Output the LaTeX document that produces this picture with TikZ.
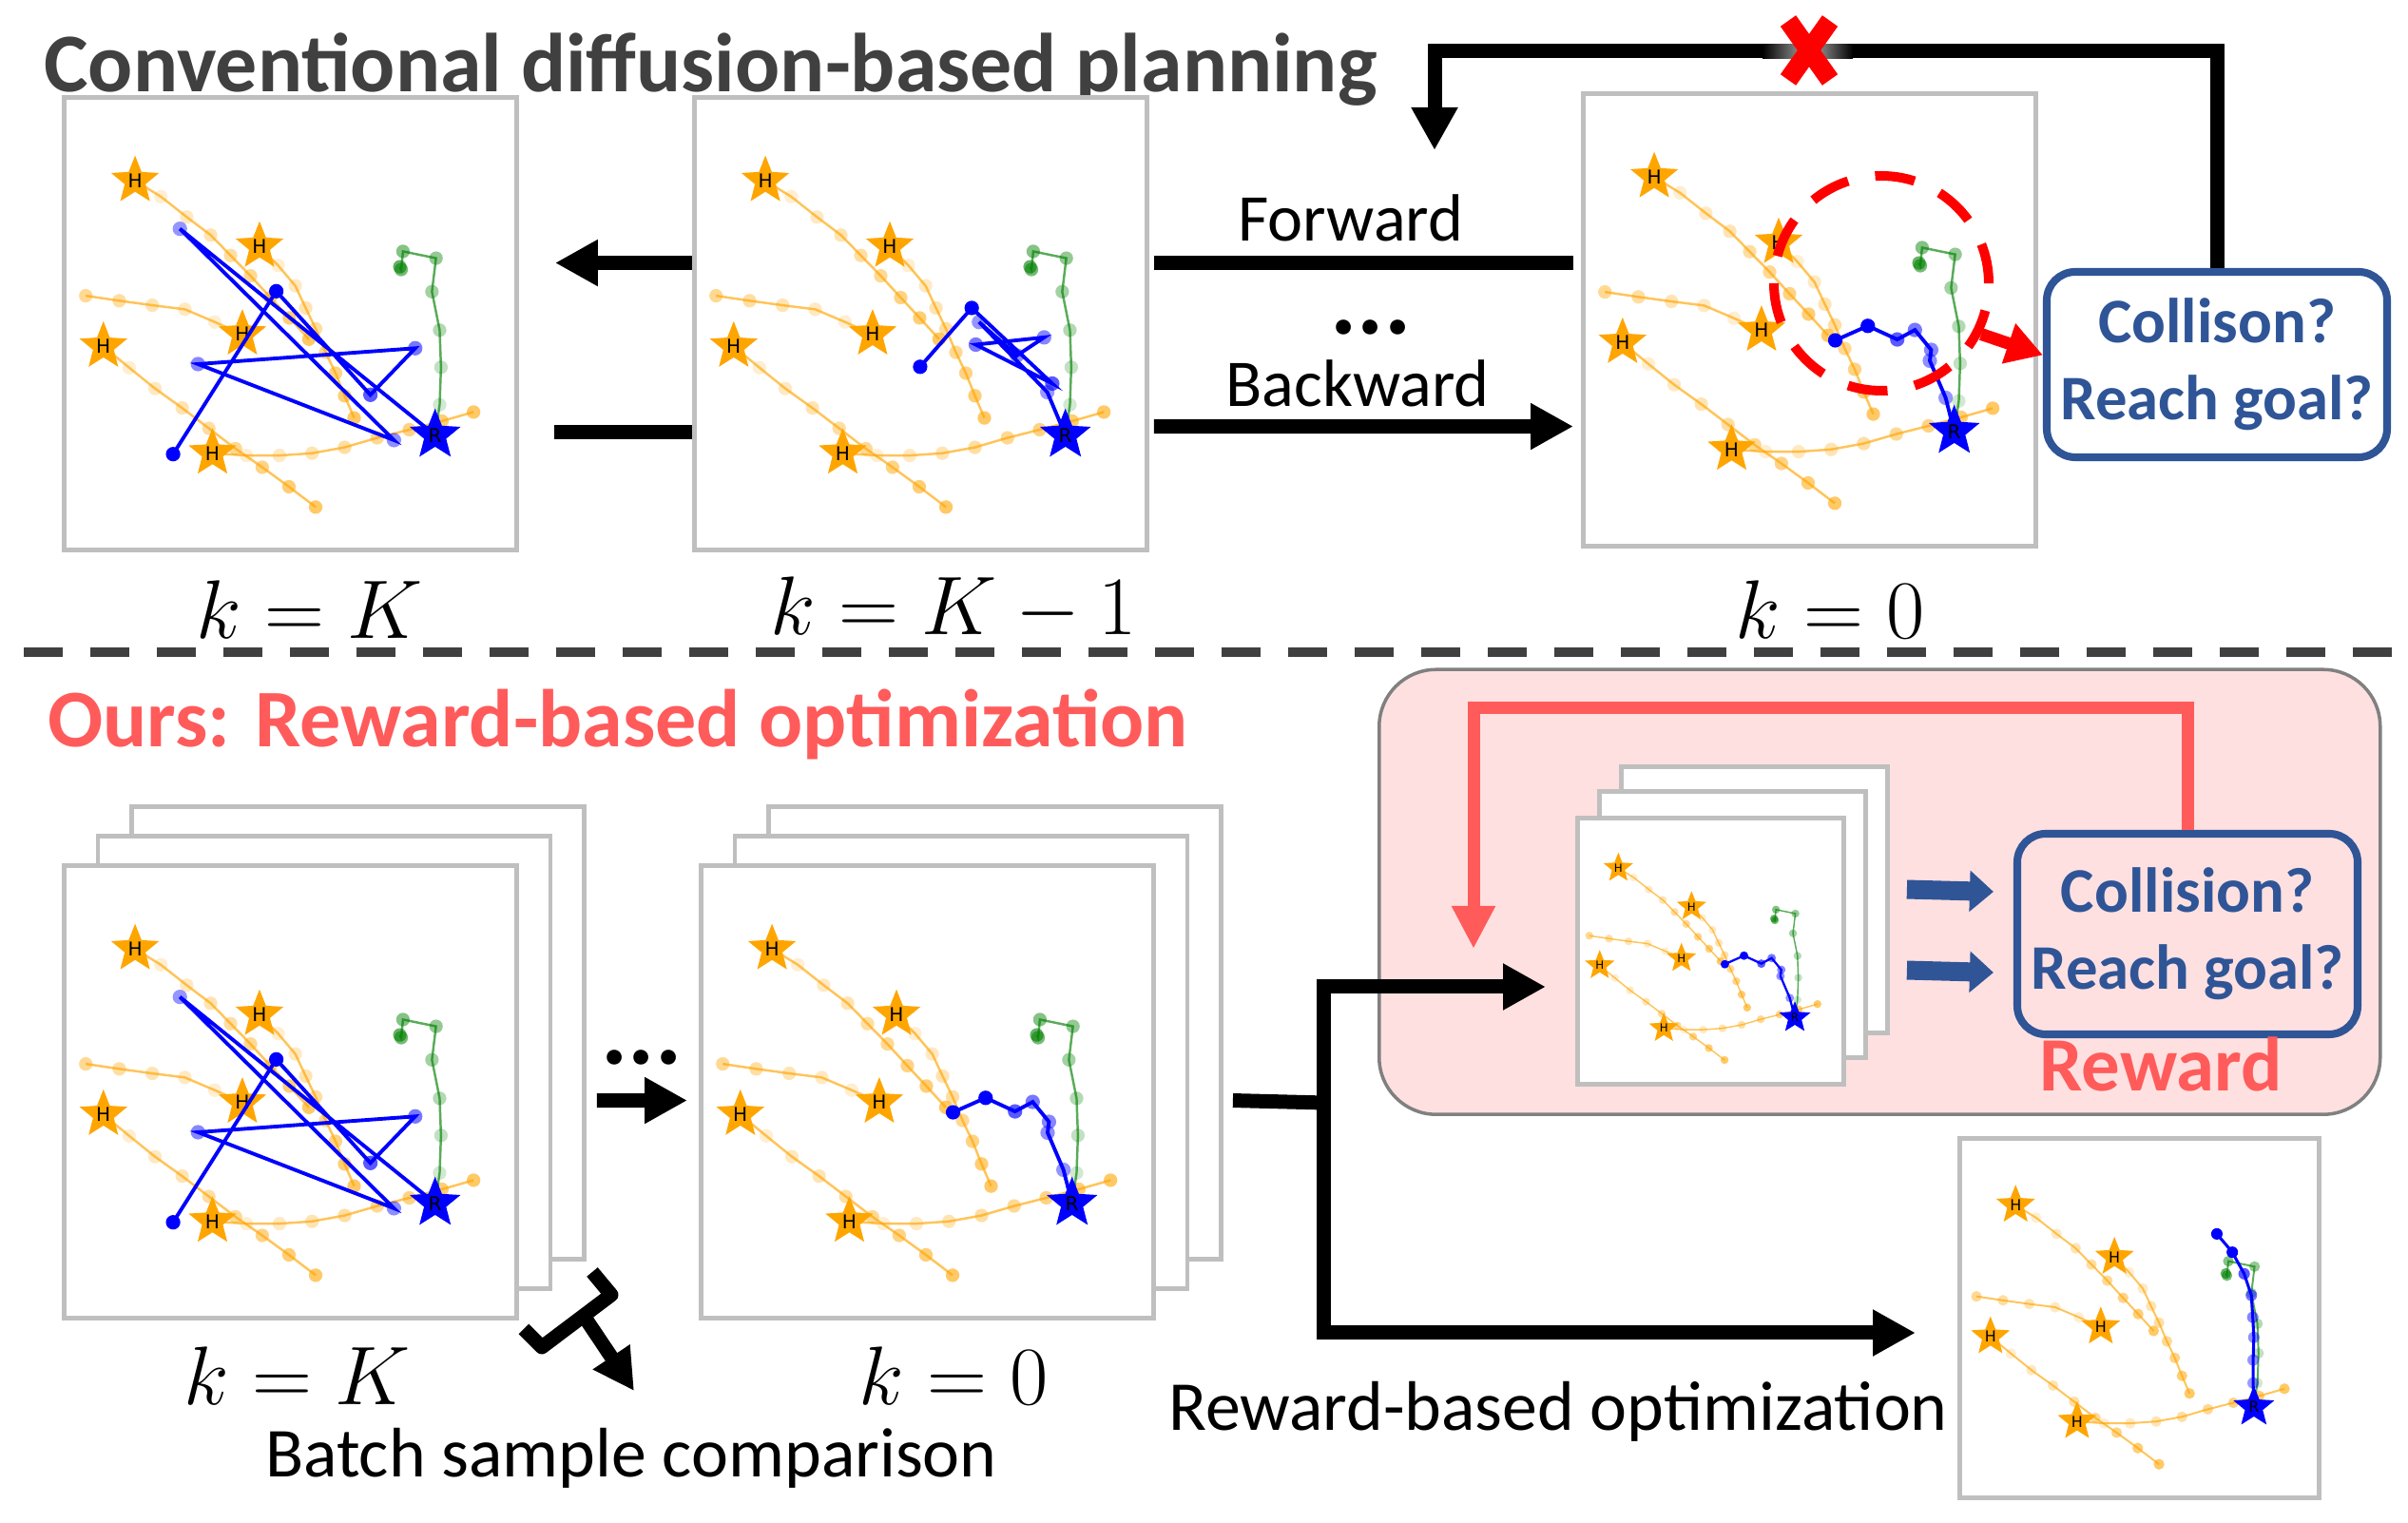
\documentclass[tikz,border=0pt]{standalone}
\usepackage{fontspec}
\setmainfont{Carlito}
\newfontfamily\plotfont{DejaVu Sans}
\usetikzlibrary{arrows.meta, shapes.geometric}

\definecolor{mplorange}{HTML}{FFA500}
\definecolor{mplgreen}{HTML}{008000}
\definecolor{mplblue}{HTML}{0000FF}
\definecolor{panelgray}{HTML}{BFBFBF}
\definecolor{titlegray}{HTML}{404040}
\definecolor{oursred}{HTML}{FF5B5B}
\definecolor{boxblue}{HTML}{2F5597}
\definecolor{rewardpink}{HTML}{FFE0E0}

\tikzset{
  panel/.style={draw=panelgray, line width=1.4pt, fill=white, minimum size=#1, inner sep=0pt, anchor=south west},
  hstar/.style={star, star points=5, star point ratio=2.3, fill=mplorange, draw=mplorange, minimum size=0.1cm, inner sep=0pt, font=\plotfont\fontsize{1.2}{1.2}\selectfont},
  rstar/.style={hstar, fill=mplblue, draw=mplblue, minimum size=0.11cm},
  flow/.style={line width=0.15cm, -{Triangle[width=0.46cm,length=0.45cm]}},
  check/.style={draw=boxblue, line width=2.3pt, rounded corners=0.3cm, text=boxblue, align=center, font=\bfseries\fontsize{19}{23}\selectfont, minimum width=3.58cm},
  lbl/.style={font=\fontsize{20}{24}\selectfont},
  blbl/.style={font=\fontsize{21}{25}\selectfont},
  klbl/.style={font=\fontsize{26}{30}\selectfont},
}

% one trajectory: colour, start, further points
\newcommand{\traj}[3]{%
  \draw[#1, opacity=0.65, line width=\lw*0.7pt] #2 \foreach \p in {#3}{-- \p};
  \foreach \p [count=\i, evaluate=\i as \op using 0.12+0.06*\i] in {#3}
    \fill[#1, opacity=\op] \p circle (0.015);
}

% the scene in a panel: panel, size, first robot point, other robot points
\newcommand{\scene}[4]{%
  \pgfmathsetmacro{\lw}{#2/4.76}
  \begin{scope}[shift={(#1.south west)}, scale=#2, transform shape]
    \traj{mplorange}{(0.162,0.821)}{(0.219,0.786),(0.276,0.741),(0.329,0.701),(0.373,0.656),(0.417,0.611),(0.461,0.563),(0.503,0.518),(0.546,0.471)}
    \traj{mplorange}{(0.437,0.676)}{(0.478,0.634),(0.516,0.589),(0.539,0.540),(0.561,0.494),(0.583,0.442),(0.605,0.396),(0.625,0.346),(0.646,0.297)}
    \traj{mplorange}{(0.399,0.482)}{(0.338,0.509),(0.272,0.537),(0.200,0.546),(0.127,0.556),(0.053,0.567)}
    \traj{mplorange}{(0.092,0.455)}{(0.149,0.408),(0.206,0.362),(0.266,0.319),(0.325,0.274),(0.384,0.229),(0.443,0.188),(0.502,0.145),(0.561,0.100)}
    \traj{mplorange}{(0.333,0.219)}{(0.408,0.214),(0.481,0.214),(0.553,0.219),(0.625,0.232),(0.697,0.253),(0.768,0.271),(0.840,0.290),(0.910,0.310)}
    \traj{mplgreen}{(0.825,0.259)}{(0.835,0.326),(0.838,0.409),(0.835,0.491),(0.818,0.576),(0.827,0.650),(0.754,0.665),(0.750,0.625),(0.747,0.631)}
    \foreach \h [count=\j] in {(0.162,0.821),(0.437,0.676),(0.399,0.482),(0.092,0.455),(0.333,0.219)}
      \node[hstar] (#1h\j) at \h {H};
    \draw[mplblue, line width=\lw*1.1pt] #3 \foreach \p in {#4}{-- \p} -- (0.825,0.259);
    \fill[mplblue] #3 circle (0.016);
    \foreach \p [count=\i, evaluate=\i as \op using 0.3+0.7/\i] in {#4}
      \fill[mplblue, opacity=\op] \p circle (0.016);
    \node[rstar] (#1r) at (0.825,0.259) {R};
  \end{scope}}

\begin{document}
\begin{tikzpicture}
\useasboundingbox (0,0) rectangle (25.33,16.02);
\fill[white] (0,0) rectangle (25.33,16.02);

% upper half
\node[anchor=base west, text=titlegray, font=\bfseries\fontsize{25}{29}\selectfont] (title) at (0.34,15.05) {Conventional diffusion-based planning};

\node[panel=4.76cm] (pA) at (0.65,10.21) {};
\node[panel=4.76cm] (pB) at (7.28,10.21) {};
\node[panel=4.76cm] (pC) at (16.63,10.25) {};
\scene{pA}{4.76}{(0.246,0.217)}{(0.474,0.577),(0.682,0.348),(0.781,0.451),(0.301,0.416),(0.734,0.248),(0.261,0.715)}
\scene{pB}{4.76}{(0.504,0.410)}{(0.618,0.540),(0.796,0.373),(0.627,0.459),(0.778,0.475),(0.718,0.435),(0.634,0.509),(0.785,0.354)}
\scene{pC}{4.76}{(0.562,0.460)}{(0.634,0.492),(0.699,0.462),(0.738,0.483),(0.774,0.439),(0.771,0.415),(0.806,0.333)}

\node[klbl] (kA) at (3.26,9.61) {$k = K$};
\node[klbl] (kB) at (10.03,9.61) {$k = K - 1$};
\node[klbl] (kC) at (19.25,9.61) {$k = 0$};

\draw[flow] ([yshift=0.64cm]pB.west) -- ([xshift=0.38cm,yshift=0.64cm]pA.east);
\draw[line width=0.15cm] ([xshift=0.37cm,yshift=-1.14cm]pA.east) -- ([yshift=-1.14cm]pB.west);
\draw[line width=0.15cm] ([xshift=-0.08cm,yshift=0.60cm]pC.west) -- ([xshift=0.05cm,yshift=0.64cm]pB.east);
\draw[flow] ([xshift=0.05cm,yshift=-1.08cm]pB.east) -- ([xshift=-0.08cm,yshift=-1.12cm]pC.west);
\node[lbl, anchor=base] (fwd) at (14.21,13.48) {Forward};
\node[font=\bfseries\fontsize{30}{30}\selectfont, inner sep=0pt] (dotsA) at (14.42,12.58) {...};
\node[lbl, anchor=base] (bwd) at (14.28,11.74) {Backward};

\node[circle, draw=red, line width=0.1cm, dash pattern=on 0.42cm off 0.29cm, minimum size=2.26cm] (hit) at (19.79,13.04) {};
\node[check, minimum height=1.95cm] (chkA) at (23.32,12.185) {Collison?\\Reach goal?};
\draw[red, line width=0.13cm, -{Triangle[width=0.42cm,length=0.38cm]}] (hit.-27) -- ([yshift=0.1cm]chkA.west);

\coordinate (backA) at (15.09,14.44);
\draw[flow] (chkA.north) |- (15.09,15.48) -- (backA);
\shade[left color=black, right color=black!30] (18.54,15.405) rectangle (19.03,15.555);
\shade[left color=black!30, right color=black] (19.03,15.405) rectangle (19.49,15.555);
\draw[red, line width=0.2cm] (18.81,15.18) -- (19.25,15.80) (18.81,15.80) -- (19.25,15.18);

\draw[titlegray, line width=0.1cm, dash pattern=on 0.41cm off 0.29cm] (0.25,9.16) -- (25.33,9.16);

% lower half
\node[anchor=base west, text=oursred, font=\bfseries\fontsize{24.5}{29}\selectfont] (ours) at (0.38,8.16) {Ours: Reward-based optimization};

\node[panel=4.76cm] (pD3) at (1.36,2.75) {};
\node[panel=4.76cm] (pD2) at (1.005,2.44) {};
\node[panel=4.76cm] (pD) at (0.65,2.13) {};
\scene{pD}{4.76}{(0.246,0.217)}{(0.474,0.577),(0.682,0.348),(0.781,0.451),(0.301,0.416),(0.734,0.248),(0.261,0.715)}
\node[panel=4.76cm] (pE3) at (8.06,2.75) {};
\node[panel=4.76cm] (pE2) at (7.705,2.44) {};
\node[panel=4.76cm] (pE) at (7.35,2.13) {};
\scene{pE}{4.76}{(0.562,0.460)}{(0.634,0.492),(0.699,0.462),(0.738,0.483),(0.774,0.439),(0.771,0.415),(0.806,0.333)}

\node[klbl] (kD) at (3.13,1.55) {$k = K$};
\node[klbl] (kE) at (10.03,1.55) {$k = 0$};

\node[font=\bfseries\fontsize{30}{30}\selectfont, inner sep=0pt] (dotsB) at (6.75,4.90) {...};
\draw[flow] ([xshift=0.11cm,yshift=-0.71cm]pD3.east) -- ([xshift=-0.12cm,yshift=-0.09cm]pE.west);

% batch comparison mark
\draw[line width=0.15cm, line join=round] (6.23,2.64) -- (6.43,2.40) -- (5.70,1.85) -- (5.51,2.04);
\draw[flow, -{Triangle[width=0.44cm,length=0.43cm]}] (6.14,2.18) -- (6.67,1.39);
\node[blbl, anchor=base] (batch) at (6.64,0.48) {Batch sample comparison};

% reward loop
\node[draw=black!50, line width=1pt, fill=rewardpink, rounded corners=0.6cm, minimum width=10.53cm, minimum height=4.68cm, anchor=south west] (rwbox) at (14.49,4.28) {};
\node[panel=2.80cm] (pF3) at (17.03,5.13) {};
\node[panel=2.80cm] (pF2) at (16.80,4.87) {};
\node[panel=2.80cm] (pF) at (16.57,4.59) {};
\scene{pF}{2.80}{(0.562,0.460)}{(0.634,0.492),(0.699,0.462),(0.738,0.483),(0.774,0.439),(0.771,0.415),(0.806,0.333)}
\node[check, minimum height=2.11cm] (chkB) at (23.01,6.195) {Collision?\\Reach goal?};
\node[anchor=base, text=oursred, font=\bfseries\fontsize{23}{27}\selectfont] (rwlbl) at (22.73,4.54) {Reward};
\draw[boxblue, line width=0.2cm, -{Triangle[width=0.42cm,length=0.25cm]}] ([xshift=0.18cm,yshift=0.11cm]pF3.east) -- ([xshift=-0.21cm,yshift=0.445cm]chkB.west);
\draw[boxblue, line width=0.2cm, -{Triangle[width=0.42cm,length=0.25cm]}] ([xshift=0.18cm,yshift=-0.74cm]pF3.east) -- ([xshift=-0.21cm,yshift=-0.405cm]chkB.west);
\coordinate (backB) at (15.50,6.04);
\draw[oursred, line width=0.13cm, -{Triangle[width=0.43cm,length=0.45cm]}] (chkB.north) |- (15.50,8.57) -- (backB);

% branch to the result
\coordinate (split) at (13.92,4.42);
\coordinate (up) at (13.92,5.64);
\coordinate (down) at (13.92,2.00);
\coordinate (inTip) at (16.26,5.64);
\coordinate (outTip) at (20.15,2.00);
\draw[line width=0.15cm] ([xshift=0.10cm,yshift=-0.71cm]pE3.east) -- (split);
\draw[line width=0.15cm, line cap=rect] (up) -- (down);
\draw[flow] (up) -- (inTip);
\draw[flow] (down) -- (outTip);

\node[panel=3.78cm] (pG) at (20.59,0.24) {};
\scene{pG}{3.78}{(0.722,0.741)}{(0.765,0.690),(0.798,0.630),(0.818,0.570),(0.822,0.509),(0.825,0.453),(0.823,0.390),(0.823,0.326)}
\node[blbl, anchor=base] (optlbl) at (16.39,0.97) {Reward-based optimization};
\end{tikzpicture}
\end{document}
